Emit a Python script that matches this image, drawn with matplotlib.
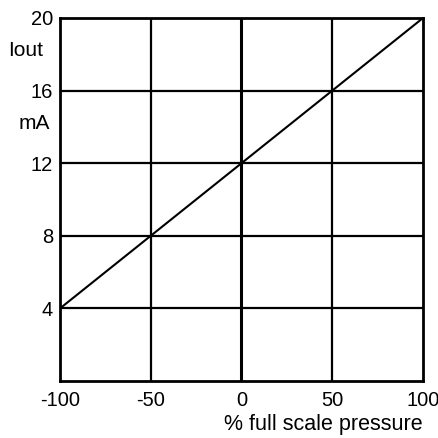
import matplotlib
matplotlib.use('Agg')
import matplotlib.pyplot as plt

# Transmitter output: 4-20 mA over -100..100 % full scale
pressure = [-100, 100]
iout = [4, 20]

x_ticks = [-100, -50, 0, 50, 100]
y_ticks = [4, 8, 12, 16, 20]

plt.rcParams['font.family'] = ['Liberation Sans', 'DejaVu Sans']
plt.rcParams['axes.unicode_minus'] = False

fig = plt.figure(figsize=(4.39, 4.38), dpi=100)
ax = fig.add_axes([60 / 439, 1 - 381 / 438, 363 / 439, 363 / 438])

ax.plot(pressure, iout, color='k', lw=1.5)
for xv in x_ticks[1:-1]:
    ax.axvline(xv, color='k', lw=1.6 if xv else 2.2)
for yv in y_ticks[:-1]:
    ax.axhline(yv, color='k', lw=1.6)

ax.set_xlim(-100, 100)
ax.set_ylim(0, 20)
ax.set_xticks(x_ticks)
ax.set_yticks(y_ticks)
ax.tick_params(length=0, labelsize=14.5)
ax.tick_params(axis='x', pad=7.5)
ax.tick_params(axis='y', pad=5)
for s in ax.spines.values():
    s.set_linewidth(2)

ax.text(-0.094, 18.2, 'Iout', fontsize=15, ha='center', va='center',
        transform=ax.get_yaxis_transform())
ax.text(-0.07, 14.2, 'mA', fontsize=15, ha='center', va='center',
        transform=ax.get_yaxis_transform())
ax.text(1.0, -0.121, '% full scale pressure', fontsize=15.5, ha='right',
        va='center', transform=ax.transAxes)

fig.savefig('out.png', dpi=100)
